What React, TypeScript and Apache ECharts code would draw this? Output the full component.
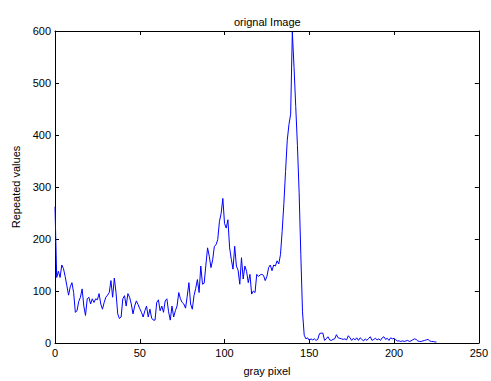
import React, { useEffect, useRef } from "react";
import * as echarts from "echarts";

const titleText = "orignal Image";
const xAxisName = "gray pixel";
const yAxisName = "Repeated values";

const xTicks = [0, 50, 100, 150, 200, 250];
const yTicks = [0, 100, 200, 300, 400, 500, 600];

// repeated values for gray levels 0..225
const counts = [
  262, 126, 138, 126, 150, 143, 128, 110, 92, 108,
  116, 97, 59, 62, 80, 88, 104, 71, 53, 85,
  88, 75, 85, 78, 85, 83, 95, 75, 65, 78,
  88, 92, 97, 120, 88, 125, 97, 56, 47, 50,
  85, 91, 71, 95, 88, 75, 56, 71, 81, 74,
  66, 59, 50, 62, 71, 50, 65, 48, 44, 44,
  78, 83, 62, 71, 59, 81, 85, 60, 44, 71,
  50, 62, 71, 97, 85, 78, 75, 67, 90, 116,
  75, 65, 91, 105, 122, 97, 148, 113, 115, 150,
  183, 167, 145, 160, 186, 189, 199, 234, 249, 278,
  230, 221, 237, 183, 161, 142, 186, 148, 140, 113,
  164, 123, 148, 138, 116, 132, 94, 100, 97, 132,
  128, 131, 132, 130, 120, 128, 145, 150, 139, 150,
  148, 158, 152, 170, 215, 268, 330, 390, 420, 440,
  598, 530, 455, 380, 290, 170, 60, 15, 8, 10,
  5, 8, 6, 8, 5, 7, 18, 19, 19, 5,
  8, 12, 6, 5, 7, 8, 16, 10, 9, 8,
  7, 8, 6, 14, 10, 5, 9, 6, 10, 5,
  10, 7, 4, 8, 5, 9, 12, 5, 7, 9,
  6, 8, 5, 10, 12, 7, 9, 5, 10, 8,
  9, 6, 4, 4, 3, 4, 3, 4, 5, 3,
  4, 6, 8, 7, 4, 3, 3, 4, 5, 6,
  7, 4, 3, 3, 2, 2,
];

const grayLevels = counts.map((_, i) => i);

const FONT = "Liberation Sans, Arial, Helvetica, sans-serif";

export default function App() {
  const ref = useRef<HTMLDivElement>(null);

  useEffect(() => {
    if (!ref.current) return;
    const chart = echarts.init(ref.current, undefined, { renderer: "svg" });
    const xMin = xTicks[0];
    const xMax = xTicks[xTicks.length - 1];
    const yMin = yTicks[0];
    const yMax = yTicks[yTicks.length - 1];
    const axisLine = { show: true, onZero: false, lineStyle: { color: "#000", width: 1 } };
    const axisTick = { show: true, inside: true, length: 4, lineStyle: { color: "#000", width: 1 } };
    chart.setOption({
      animation: false,
      backgroundColor: "#fff",
      textStyle: { fontFamily: FONT },
      title: {
        text: titleText,
        left: 229,
        top: 11,
        textStyle: { fontSize: 11, fontWeight: "normal", color: "#000", fontFamily: FONT },
      },
      grid: { left: 55, right: 10, top: 31, bottom: 33, containLabel: false },
      xAxis: [
        {
          type: "value",
          min: xMin,
          max: xMax,
          interval: 50,
          position: "bottom",
          name: xAxisName,
          nameLocation: "middle",
          nameGap: 22,
          nameTextStyle: { fontSize: 11, color: "#000", fontFamily: FONT },
          axisLabel: { color: "#000", fontSize: 11, margin: 4, fontFamily: FONT },
          axisLine,
          axisTick,
          splitLine: { show: false },
        },
        {
          type: "value",
          min: xMin,
          max: xMax,
          interval: 50,
          position: "top",
          axisLabel: { show: false },
          axisLine,
          axisTick,
          splitLine: { show: false },
        },
      ],
      yAxis: [
        {
          type: "value",
          min: yMin,
          max: yMax,
          interval: 100,
          position: "left",
          name: yAxisName,
          nameLocation: "middle",
          nameGap: 34,
          nameRotate: 90,
          nameTextStyle: { fontSize: 11, color: "#000", fontFamily: FONT },
          axisLabel: { color: "#000", fontSize: 11, margin: 4, fontFamily: FONT },
          axisLine,
          axisTick,
          splitLine: { show: false },
        },
        {
          type: "value",
          min: yMin,
          max: yMax,
          interval: 100,
          position: "right",
          axisLabel: { show: false },
          axisLine,
          axisTick,
          splitLine: { show: false },
        },
      ],
      series: [
        {
          type: "line",
          data: grayLevels.map((g, i) => [g, counts[i]]),
          showSymbol: false,
          symbol: "none",
          lineStyle: { color: "#0000ff", width: 1 },
          itemStyle: { color: "#0000ff" },
          xAxisIndex: 0,
          yAxisIndex: 0,
          clip: true,
          z: 1,
        },
      ],
    });
    return () => chart.dispose();
  }, []);

  return (
    <div
      ref={ref}
      style={{ position: "absolute", left: 0, top: 0, width: 491, height: 381 }}
    />
  );
}
